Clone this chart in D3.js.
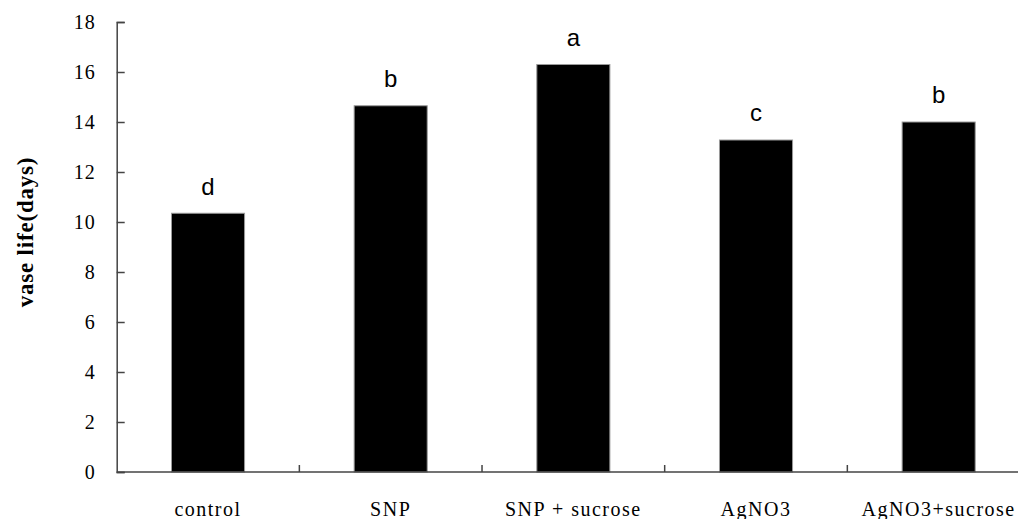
<!DOCTYPE html>
<html>
<head>
<meta charset="utf-8">
<script src="https://cdn.jsdelivr.net/npm/d3@7"></script>
<style>
  body { margin: 0; background: #fff; }
  svg { display: block; }
</style>
</head>
<body>
<div class="canvas"></div>
<script>
// data
const categories = ["control", "SNP", "SNP + sucrose", "AgNO3", "AgNO3+sucrose"];
const vaseLife = [10.35, 14.65, 16.3, 13.28, 14.0];
const letters = ["d", "b", "a", "c", "b"];
const yTicks = [0, 2, 4, 6, 8, 10, 12, 14, 16, 18];

const width = 1018;
const height = 519;
// plot area runs past the right edge of the picture (it is cropped)
const plot = { left: 116.7, right: 1030, top: 22, bottom: 472 };

const svg = d3
  .select(".canvas")
  .append("svg")
  .attr("width", width)
  .attr("height", height);

// scales
const x = d3
  .scaleBand()
  .domain(categories)
  .range([plot.left, plot.right])
  .paddingInner(0.6)
  .paddingOuter(0.3);

const y = d3.scaleLinear().domain([0, 18]).range([plot.bottom, plot.top]);

// bars
svg
  .selectAll("rect.bar")
  .data(categories)
  .enter()
  .append("rect")
  .attr("class", "bar")
  .attr("x", d => x(d))
  .attr("width", x.bandwidth())
  .attr("y", (d, i) => y(vaseLife[i]))
  .attr("height", (d, i) => y(0) - y(vaseLife[i]))
  .attr("fill", "#000")
  .attr("stroke", "#9a9a9a")
  .attr("stroke-width", 1);

// significance letters
svg
  .selectAll("text.letter")
  .data(categories)
  .enter()
  .append("text")
  .attr("class", "letter")
  .attr("x", d => x(d) + x.bandwidth() / 2)
  .attr("y", (d, i) => y(vaseLife[i] + 0.75))
  .attr("text-anchor", "middle")
  .attr("font-family", "Liberation Sans, Arial, sans-serif")
  .attr("font-size", 24)
  .attr("fill", "#000")
  .text((d, i) => letters[i]);

// y axis
const yAxis = d3
  .axisRight(y)
  .tickValues(yTicks)
  .tickSize(8)
  .tickFormat(d3.format("d"));

const yAxisGroup = svg
  .append("g")
  .attr("transform", `translate(${plot.left}, 0)`)
  .call(yAxis);

yAxisGroup.select(".domain").attr("stroke", "#444").attr("stroke-width", 1.5);
yAxisGroup.selectAll(".tick line").attr("stroke", "#444").attr("stroke-width", 1.5);
yAxisGroup
  .selectAll(".tick text")
  .attr("x", -21)
  .attr("text-anchor", "end")
  .attr("font-family", "Liberation Serif, Times New Roman, serif")
  .attr("font-size", 20)
  .attr("letter-spacing", 1)
  .attr("fill", "#000");

// x axis: boundary ticks between categories, pointing up
const step = x.step();
const bounds = d3.range(1, categories.length).map(i => plot.left + i * step);

svg
  .append("line")
  .attr("x1", plot.left)
  .attr("x2", plot.right)
  .attr("y1", plot.bottom)
  .attr("y2", plot.bottom)
  .attr("stroke", "#444")
  .attr("stroke-width", 1.5);

svg
  .selectAll("line.xtick")
  .data(bounds)
  .enter()
  .append("line")
  .attr("class", "xtick")
  .attr("x1", d => d)
  .attr("x2", d => d)
  .attr("y1", plot.bottom)
  .attr("y2", plot.bottom - 7)
  .attr("stroke", "#444")
  .attr("stroke-width", 1.5);

svg
  .selectAll("text.xlabel")
  .data(categories)
  .enter()
  .append("text")
  .attr("class", "xlabel")
  .attr("x", d => x(d) + x.bandwidth() / 2)
  .attr("y", 516)
  .attr("text-anchor", "middle")
  .attr("font-family", "Liberation Serif, Times New Roman, serif")
  .attr("font-size", 20)
  .attr("letter-spacing", 1.5)
  .attr("fill", "#000")
  .text(d => d);

// y axis title
svg
  .append("text")
  .attr("transform", "translate(33, 232) rotate(-90)")
  .attr("text-anchor", "middle")
  .attr("font-family", "Liberation Serif, Times New Roman, serif")
  .attr("font-weight", "bold")
  .attr("font-size", 23)
  .attr("letter-spacing", 0.8)
  .attr("fill", "#000")
  .text("vase life(days)");
</script>
</body>
</html>
